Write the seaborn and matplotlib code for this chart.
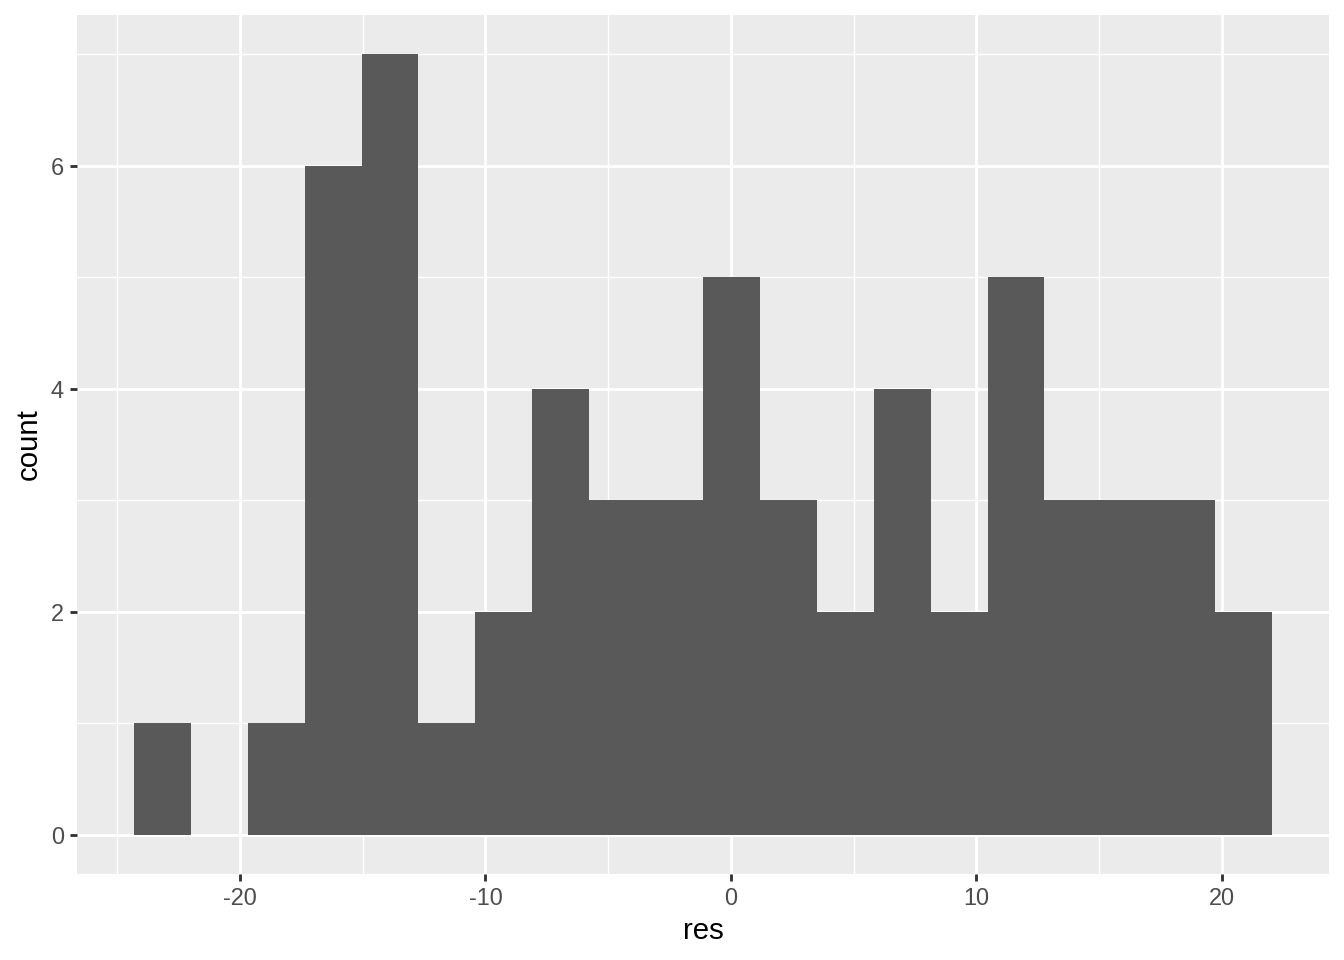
import numpy as np
import pandas as pd
import matplotlib
matplotlib.use('Agg')
import matplotlib.pyplot as plt
import seaborn as sns
from matplotlib.ticker import MultipleLocator

# 直方图数据 (20个分箱)
bin_lo = -24.32
bin_hi = 22.04
counts = [1, 0, 1, 6, 7, 1, 2, 4, 3, 3, 5, 3, 2, 4, 2, 5, 3, 3, 3, 2]
x_ticks = [-20, -10, 0, 10, 20]
y_ticks = [0, 2, 4, 6]

n_bins = len(counts)
edges = np.linspace(bin_lo, bin_hi, n_bins + 1)
centers = (edges[:-1] + edges[1:]) / 2
df = pd.DataFrame({'res': centers, 'n': counts})

sns.set_theme(style='darkgrid')
plt.rcParams['font.family'] = ['Liberation Sans', 'DejaVu Sans']
plt.rcParams['axes.unicode_minus'] = False

fig = plt.figure(figsize=(7, 5), dpi=192)
ax = fig.add_axes([77 / 1344, 1 - 874 / 960, (1329 - 77) / 1344, (874 - 15) / 960])
ax.set_facecolor('#EBEBEB')

sns.histplot(data=df, x='res', weights='n', bins=n_bins, binrange=(bin_lo, bin_hi),
             ax=ax, color='#595959', edgecolor='none', linewidth=0, alpha=1)

span = bin_hi - bin_lo
ax.set_xlim(bin_lo - 0.05 * span, bin_hi + 0.05 * span)
ax.set_ylim(-0.35, 7.35)
ax.set_xticks(x_ticks)
ax.set_yticks(y_ticks)
ax.xaxis.set_minor_locator(MultipleLocator(5))
ax.yaxis.set_minor_locator(MultipleLocator(1))
ax.grid(which='major', color='white', linewidth=1.07)
ax.grid(which='minor', color='white', linewidth=0.53)
ax.set_axisbelow(True)
for s in ax.spines.values():
    s.set_visible(False)

ax.tick_params(which='major', length=2.75, width=1.07, color='#333333',
               labelsize=8.8, labelcolor='#4D4D4D', pad=2.2,
               bottom=True, left=True)
ax.tick_params(which='minor', length=0)
ax.set_xlabel('res', fontsize=11, color='black', labelpad=2.5)
ax.set_ylabel('count', fontsize=11, color='black', labelpad=2.8)

fig.savefig('out.png', dpi=192)
